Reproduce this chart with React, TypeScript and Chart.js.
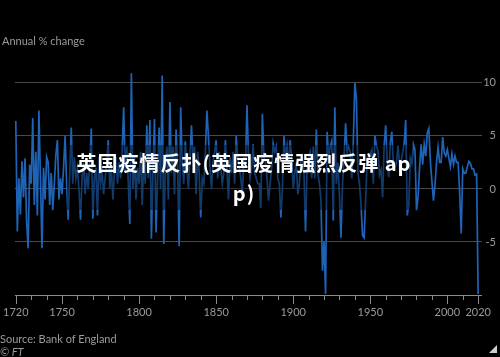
import React, { useEffect, useRef } from 'react';
import { Chart, registerables } from 'chart.js';

Chart.register(...registerables);

const START_YEAR = 1720;

const growth1720s = [6.4, -4.0, 1.0, -2.4, 2.6, -0.8, 2.9, -3.0, -5.6, 2.3];
const growth1730s = [0.5, 6.7, -1.5, 3.5, -2.5, 7.4, 1.0, -5.6, 2.0, -1.0];
const growth1740s = [3.0, 2.5, -1.5, 1.5, -2.0, 0.5, 3.2, 4.6, -1.0, 1.0];
const growth1750s = [-0.5, 2.0, 5.0, 0.5, -2.9, 1.5, 5.8, 0.5, 3.0, 1.0];
const growth1760s = [2.0, 0.0, -2.9, 1.0, 2.5, -0.5, 1.5, 0.0, 2.5, 5.7];
const growth1770s = [-2.8, 1.0, 2.0, -2.5, 3.0, 0.5, 1.5, -0.5, 1.0, 2.5];
const growth1780s = [4.6, 0.0, 2.0, -1.0, 1.5, 3.0, 0.5, 2.5, 1.0, 3.5];
const growth1790s = [7.7, 1.5, 4.0, 0.5, -3.3, 10.9, 0.0, 3.0, -1.0, 2.0];
const growth1800s = [0.5, 3.5, -1.5, 2.5, 0.5, 6.0, 1.0, 6.5, -4.7, 2.0];
const growth1810s = [6.6, -4.1, 1.0, 5.8, 0.0, 10.7, -5.2, 2.0, 4.0, -1.0];
const growth1820s = [8.2, 1.5, 4.0, -0.5, 5.6, 2.0, -5.4, 7.7, 2.5, 0.5];
const growth1830s = [4.5, 2.0, 0.0, 3.0, 6.0, 2.5, 4.0, -0.5, 3.5, 1.5];
const growth1840s = [-2.7, 1.0, 0.5, 3.5, 7.4, 5.0, 2.0, 0.0, 2.5, 3.5];
const growth1850s = [4.6, 1.0, 3.5, 2.0, 0.5, 1.5, 4.6, 2.0, -1.0, 3.0];
const growth1860s = [1.5, 3.5, 0.5, 5.0, 3.0, 2.0, 1.0, -0.5, 3.0, 2.0];
const growth1870s = [7.9, 3.0, 1.0, 2.0, 4.2, 1.5, 1.0, 0.5, 0.5, -1.8];
const growth1880s = [7.1, 3.0, 2.5, 1.0, -1.1, 0.5, 2.0, 4.3, 3.5, 4.0];
const growth1890s = [1.0, 0.5, -2.7, 0.0, 5.0, 3.0, 4.0, 2.0, 4.6, 3.0];
const growth1900s = [0.0, 1.5, 2.5, -0.5, 0.5, 2.5, 3.0, 1.5, -4.0, 2.0];
const growth1910s = [3.0, 3.5, 1.0, 4.0, 1.0, 5.6, 1.5, 0.5, -1.0, -7.7];
const growth1920s = [-5.0, -9.9, 5.4, 3.0, 4.0, 4.5, -3.0, 7.7, 0.5, 2.5];
const growth1930s = [-0.5, -4.6, 0.5, 3.0, 6.2, 3.5, 4.0, 3.5, 1.0, 4.5];
const growth1940s = [10.0, 8.5, 1.5, 0.5, -1.5, -4.4, -4.6, -1.0, 2.7, 3.3];
const growth1950s = [3.3, 3.7, 0.5, 5.0, 4.1, 3.6, 1.3, 1.8, -0.8, 4.1];
const growth1960s = [6.0, 2.6, 1.1, 4.4, 5.4, 2.3, 1.9, 2.5, 4.1, 2.1];
const growth1970s = [2.6, 3.4, 4.3, 6.5, -2.5, -1.5, 2.9, 2.4, 4.2, 3.7];
const growth1980s = [-2.0, -0.8, 2.0, 4.2, 2.3, 4.2, 3.1, 5.3, 5.7, 2.6];
const growth1990s = [0.7, -1.1, 0.4, 2.5, 3.9, 2.5, 2.5, 4.9, 3.4, 3.1];
const growth2000s = [3.7, 2.9, 2.1, 3.3, 2.3, 3.1, 2.5, 2.5, -0.3, -4.2];
const growth2010s = [1.9, 1.5, 1.5, 2.1, 2.6, 2.4, 1.9, 1.9, 1.3, 1.4];
const growth2020 = [-9.9];

const xTickYears = [
  1720, 1730, 1740, 1750, 1760, 1770, 1780, 1790, 1800, 1810, 1820,
  1830, 1840, 1850, 1860, 1870, 1880, 1890, 1900, 1910, 1920, 1930,
  1940, 1950, 1960, 1970, 1980, 1990, 2000, 2010, 2020,
];
const xLabelYears = [1720, 1750, 1800, 1850, 1900, 1950, 2000, 2020];
const yTickValues = [-10, -5, 0, 5, 10];

const TITLE = '英国疫情反扑(英国疫情强烈反弹 app)';
const Y_LABEL = 'Annual % change';
const SOURCE = 'Source: Bank of England';
const CREDIT = '© FT';

const allGrowth = [
  ...growth1720s, ...growth1730s, ...growth1740s, ...growth1750s, ...growth1760s,
  ...growth1770s, ...growth1780s, ...growth1790s, ...growth1800s, ...growth1810s,
  ...growth1820s, ...growth1830s, ...growth1840s, ...growth1850s, ...growth1860s,
  ...growth1870s, ...growth1880s, ...growth1890s, ...growth1900s, ...growth1910s,
  ...growth1920s, ...growth1930s, ...growth1940s, ...growth1950s, ...growth1960s,
  ...growth1970s, ...growth1980s, ...growth1990s, ...growth2000s, ...growth2010s,
  ...growth2020,
];

const FONT = "Lato, 'Open Sans', sans-serif";
const GREY = '#9a9a9a';

const tickPlugin = {
  id: 'decadeTicks',
  afterDraw(chart: any) {
    const xs = chart.scales.x;
    const ctx = chart.ctx;
    const y0 = chart.chartArea.bottom;
    ctx.save();
    ctx.strokeStyle = '#8a8a8a';
    ctx.lineWidth = 1;
    xTickYears.forEach((yr) => {
      const px = Math.round(xs.getPixelForValue(yr)) + 0.5;
      const len = xLabelYears.includes(yr) ? 9 : 5;
      ctx.beginPath();
      ctx.moveTo(px, y0);
      ctx.lineTo(px, y0 + len);
      ctx.stroke();
    });
    ctx.restore();
  },
};

export default function App() {
  const canvasRef = useRef<HTMLCanvasElement | null>(null);

  useEffect(() => {
    const canvas = canvasRef.current;
    if (!canvas) return;
    const points = allGrowth.map((v, i) => ({ x: START_YEAR + i, y: v }));
    const chart = new Chart(canvas, {
      type: 'line',
      data: {
        datasets: [
          {
            data: points,
            borderColor: '#1e63b5',
            borderWidth: 1.7,
            pointRadius: 0,
            tension: 0,
            fill: false,
          },
        ],
      },
      options: {
        responsive: false,
        animation: false,
        devicePixelRatio: 1,
        layout: { padding: { left: 12, right: 4, top: 67, bottom: 0 } },
        plugins: { legend: { display: false }, tooltip: { enabled: false }, title: { display: false } },
        scales: {
          x: {
            type: 'linear',
            min: 1719.4,
            max: 2022.5,
            afterBuildTicks: (scale: any) => {
              scale.ticks = xTickYears.map((v) => ({ value: v }));
            },
            afterFit: (scale: any) => {
              scale.height = 62;
            },
            grid: { display: true, drawOnChartArea: false, drawTicks: true, tickLength: 8, color: 'rgba(0,0,0,0)' },
            border: { display: false },
            ticks: {
              autoSkip: false,
              maxRotation: 0,
              padding: 3,
              color: GREY,
              font: { family: FONT, size: 11 },
              callback: (v: any) => (xLabelYears.includes(Number(v)) ? String(v) : ''),
            },
          },
          y: {
            type: 'linear',
            position: 'right',
            min: -10,
            max: 11.5,
            afterBuildTicks: (scale: any) => {
              scale.ticks = yTickValues.map((v) => ({ value: v }));
            },
            afterFit: (scale: any) => {
              scale.width = 14;
            },
            grid: {
              drawTicks: false,
              color: (c: any) => (c.tick && c.tick.value === -10 ? '#8a8a8a' : '#4a4a4a'),
              lineWidth: 1,
            },
            border: { display: false },
            ticks: {
              padding: 2,
              crossAlign: 'far',
              color: GREY,
              font: { family: FONT, size: 11 },
              callback: (v: any) => (Number(v) === -10 ? '' : String(v)),
            },
          },
        },
      },
      plugins: [tickPlugin],
    } as any);
    return () => chart.destroy();
  }, []);

  return (
    <div style={{ position: 'relative', width: 500, height: 357, background: '#000', overflow: 'hidden' }}>
      <style>{`body{margin:0;background:#000}`}</style>
      <canvas ref={canvasRef} width={500} height={357} style={{ position: 'absolute', left: 0, top: 0, width: 500, height: 357 }} />
      <div style={{ position: 'absolute', left: 2, top: 34, fontFamily: FONT, fontSize: 11, lineHeight: '14px', color: GREY, whiteSpace: 'nowrap' }}>{Y_LABEL}</div>
      <div style={{ position: 'absolute', left: 67, top: 145, width: 346, height: 65, background: 'rgba(0,0,0,0.4)' }} />
      <div
        style={{
          position: 'absolute',
          left: 74,
          top: 148,
          width: 340,
          textAlign: 'center',
          fontFamily: "'Noto Sans CJK SC', sans-serif",
          fontWeight: 700,
          fontSize: 20,
          lineHeight: '30px',
          letterSpacing: 1,
          color: '#fff',
          wordBreak: 'break-all',
        }}
      >
        {TITLE}
      </div>
      <div style={{ position: 'absolute', left: 0, top: 332, fontFamily: FONT, fontSize: 11, lineHeight: '14px', color: GREY, whiteSpace: 'nowrap' }}>{SOURCE}</div>
      <div style={{ position: 'absolute', left: 0, top: 345, fontFamily: FONT, fontSize: 11, lineHeight: '14px', color: GREY, fontStyle: 'italic', whiteSpace: 'nowrap' }}>{CREDIT}</div>
      <div style={{ position: 'absolute', left: 489, top: 345, width: 0, height: 0, borderLeft: '8px solid transparent', borderBottom: '8px solid #cfcfcf' }} />
    </div>
  );
}
